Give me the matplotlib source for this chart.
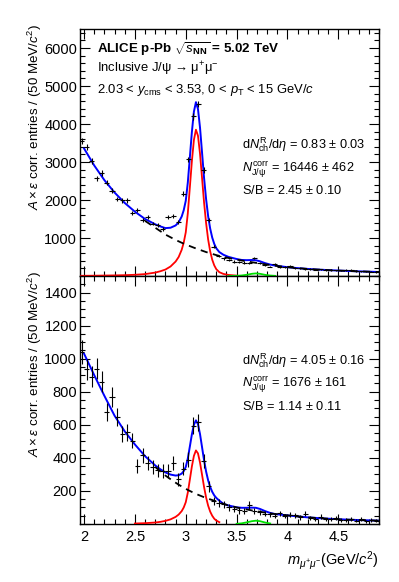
import numpy as np
import matplotlib
matplotlib.use("Agg")
import matplotlib.pyplot as plt
from matplotlib.ticker import MultipleLocator, FuncFormatter

plt.rcParams['font.family'] = ['Liberation Sans', 'DejaVu Sans']
plt.rcParams['mathtext.fontset'] = 'custom'
plt.rcParams['mathtext.rm'] = 'Liberation Sans'
plt.rcParams['mathtext.it'] = 'Liberation Sans:italic'
plt.rcParams['mathtext.bf'] = 'Liberation Sans:bold'

# ---- data: dimuon invariant mass bins (50 MeV/c2 wide) ----
mass = [1.975, 2.025, 2.075, 2.125, 2.175, 2.225, 2.275, 2.325, 2.375, 2.425,
        2.475, 2.525, 2.575, 2.625, 2.675, 2.725, 2.775, 2.825, 2.875, 2.925,
        2.975, 3.025, 3.075, 3.125, 3.175, 3.225, 3.275, 3.325, 3.375, 3.425,
        3.475, 3.525, 3.575, 3.625, 3.675, 3.725, 3.775, 3.825, 3.875, 3.925,
        3.975, 4.025, 4.075, 4.125, 4.175, 4.225, 4.275, 4.325, 4.375, 4.425,
        4.475, 4.525, 4.575, 4.625, 4.675, 4.725, 4.775, 4.825, 4.875]

# low multiplicity class (top panel)
top_counts = [3550, 3400, 3020, 2570, 2710, 2460, 2250, 2030, 1990, 1990,
              1650, 1730, 1480, 1550, 1380, 1340, 1230, 1540, 1570, 1430,
              2170, 3070, 4200, 4530, 2790, 1470, 770, 530, 465, 420,
              380, 370, 355, 340, 480, 330, 300, 250, 310, 240,
              235, 265, 215, 200, 190, 180, 170, 175, 160, 160,
              150, 150, 160, 165, 130, 125, 120, 110, 105]
top_err = [80, 78, 74, 68, 70, 66, 63, 60, 60, 60,
           55, 56, 52, 53, 50, 50, 48, 53, 53, 51,
           62, 74, 85, 88, 71, 52, 40, 34, 31, 30,
           29, 29, 28, 28, 33, 27, 25, 24, 24, 23,
           23, 22, 22, 21, 21, 20, 20, 20, 19, 19,
           19, 19, 18, 18, 18, 18, 18, 17, 17]

# high multiplicity class (bottom panel)
bot_counts = [1040, 935, 890, 940, 860, 675, 770, 645, 545, 555,
              505, 350, 415, 370, 345, 325, 320, 320, 370, 270,
              335, 390, 595, 615, 380, 228, 140, 125, 118, 100,
              90, 82, 80, 115, 78, 70, 62, 58, 50, 65,
              48, 55, 52, 40, 62, 35, 30, 45, 28, 30,
              35, 25, 24, 30, 20, 30, 18, 24, 20]
bot_err = [70, 66, 64, 66, 63, 55, 60, 55, 50, 50,
           48, 42, 45, 43, 41, 40, 40, 40, 43, 38,
           41, 44, 50, 50, 42, 32, 25, 24, 23, 21,
           20, 19, 19, 22, 18, 17, 16, 16, 15, 16,
           14, 15, 14, 13, 15, 12, 11, 13, 11, 11,
           12, 10, 10, 11, 9, 11, 9, 10, 9]

# ---- fit components ----
fit_mass = [1.96, 2.0, 2.1, 2.2, 2.3, 2.4, 2.5, 2.6, 2.7, 2.75,
            2.8, 2.85, 2.9, 2.93, 2.96, 2.98, 3.0, 3.02, 3.04, 3.06,
            3.08, 3.10, 3.12, 3.14, 3.16, 3.18, 3.20, 3.22, 3.24, 3.26,
            3.28, 3.30, 3.33, 3.37, 3.42, 3.5, 3.55, 3.6, 3.65, 3.69,
            3.73, 3.78, 3.83, 3.88, 4.0, 4.1, 4.2, 4.3, 4.4, 4.5,
            4.6, 4.7, 4.8, 4.9]

top_bkg = [3550, 3350, 2900, 2510, 2180, 1900, 1660, 1450, 1270, 1180,
           1090, 1020, 950, 912, 875, 852, 830, 808, 787, 766,
           745, 725, 706, 687, 668, 649, 630, 614, 598, 582,
           566, 550, 530, 504, 474, 432, 408, 385, 363, 346,
           329, 309, 288, 270, 232, 207, 186, 169, 155, 143,
           132, 122, 113, 105]
top_jpsi = [5, 6, 8, 12, 16, 22, 32, 50, 90, 125,
            170, 250, 380, 500, 690, 880, 1150, 1650, 2330, 3020,
            3580, 3850, 3690, 3220, 2580, 1930, 1390, 960, 650, 430,
            280, 180, 100, 55, 28, 10, 0, 0, 0, 0,
            0, 0, 0, 0, 0, 0, 0, 0, 0, 0,
            0, 0, 0, 0]
top_psi2s = [0] * 34 + [1, 5, 14, 32, 58, 68, 58, 30, 12, 4, 0] + [0] * 9

bot_bkg = [1090, 1030, 900, 775, 655, 560, 478, 405, 345, 318,
           293, 271, 250, 238, 227, 220, 213, 206, 200, 194,
           188, 182, 177, 172, 167, 162, 157, 153, 149, 145,
           141, 137, 130, 122, 112, 100, 94, 88, 82, 78,
           74, 69, 64, 60, 52, 46, 40, 36, 32, 29,
           26, 24, 22, 20]
bot_jpsi = [0, 0, 0, 0, 0, 0, 3, 5, 9, 13,
            19, 28, 43, 57, 78, 100, 132, 190, 268, 348,
            412, 445, 427, 372, 298, 223, 160, 111, 75, 50,
            32, 21, 11, 0, 0, 0, 0, 0, 0, 0,
            0, 0, 0, 0, 0, 0, 0, 0, 0, 0,
            0, 0, 0, 0]
bot_psi2s = [0] * 35 + [1, 4, 10, 17, 20, 17, 9, 3, 0] + [0] * 10

# component ranges as drawn in the figure
top_ranges = {"bkg": (2.55, 4.9), "jpsi": (1.96, 3.5), "psi2s": (3.42, 3.95)}
bot_ranges = {"bkg": (2.65, 4.9), "jpsi": (2.5, 3.34), "psi2s": (3.5, 3.84)}

top_text = [r"d$N_{\rm ch}^{\rm R}$/d$\eta$ = 0.83 $\pm$ 0.03",
            r"$N_{\rm J/\psi}^{\rm corr}$ = 16446 $\pm$ 462",
            r"S/B = 2.45 $\pm$ 0.10"]
bot_text = [r"d$N_{\rm ch}^{\rm R}$/d$\eta$ = 4.05 $\pm$ 0.16",
            r"$N_{\rm J/\psi}^{\rm corr}$ = 1676 $\pm$ 161",
            r"S/B = 1.14 $\pm$ 0.11"]

W, H = 399, 582
fig = plt.figure(figsize=(W / 100, H / 100), dpi=100)


def px_axes(left, top, right, bottom):
    return fig.add_axes([left / W, 1 - bottom / H, (right - left) / W, (bottom - top) / H])


ax_top = px_axes(80, 29, 379, 276)
ax_bot = px_axes(80, 276, 379, 524)


def draw_panel(ax, counts, err, bkg, jpsi, psi2s, ranges, ymax, ymajor, yminor):
    m = np.array(fit_mass)
    bkg = np.array(bkg, float)
    jpsi = np.array(jpsi, float)
    psi2s = np.array(psi2s, float)
    total = bkg + jpsi + psi2s

    sel = m >= 2.0
    ax.plot(m[sel], total[sel], color="#0000ff", lw=1.4, zorder=3)
    lo, hi = ranges["jpsi"]
    sel = (m >= lo - 1e-9) & (m <= hi + 1e-9)
    ax.plot(m[sel], jpsi[sel], color="#ff0000", lw=1.3, zorder=4)
    lo, hi = ranges["psi2s"]
    sel = (m >= lo - 1e-9) & (m <= hi + 1e-9)
    ax.plot(m[sel], psi2s[sel], color="#00e000", lw=1.3, zorder=4)
    lo, hi = ranges["bkg"]
    sel = (m >= lo - 1e-9) & (m <= hi + 1e-9)
    ax.plot(m[sel], bkg[sel], color="black", lw=1.3, ls=(0, (4, 3)), zorder=5)

    ax.errorbar(mass, counts, yerr=err, xerr=0.025, fmt="none",
                ecolor="black", elinewidth=0.8, capsize=0, zorder=6)

    ax.set_xlim(1.96, 4.9)
    ax.set_ylim(0, ymax)
    ax.xaxis.set_major_locator(MultipleLocator(0.5))
    ax.xaxis.set_minor_locator(MultipleLocator(0.1))
    ax.yaxis.set_major_locator(MultipleLocator(ymajor))
    ax.yaxis.set_minor_locator(MultipleLocator(yminor))
    ax.yaxis.set_major_formatter(FuncFormatter(lambda v, p: "" if v == 0 else f"{v:g}"))
    ax.tick_params(which="both", direction="in", top=True, right=True,
                   width=0.8, labelsize=10.5, pad=2)
    ax.tick_params(which="major", length=7)
    ax.tick_params(which="minor", length=3.5)
    for s in ax.spines.values():
        s.set_linewidth(1.0)
    ax.set_ylabel(r"$A\times\varepsilon$ corr. entries / (50 MeV/$c^{2}$)",
                  fontsize=9.6, loc="top")
    ax.yaxis.set_label_coords(-0.12, 1.02)


draw_panel(ax_top, top_counts, top_err, top_bkg, top_jpsi, top_psi2s,
           top_ranges, 6500, 1000, 200)
draw_panel(ax_bot, bot_counts, bot_err, bot_bkg, bot_jpsi, bot_psi2s,
           bot_ranges, 1500, 200, 50)
ax_top.tick_params(labelbottom=False)
ax_bot.xaxis.set_major_formatter(FuncFormatter(lambda v, p: f"{v:g}"))
ax_bot.tick_params(axis="x", pad=4)
ax_bot.set_xlabel(r"$m_{\mu^{+}\mu^{-}}$(GeV/$c^{2}$)", fontsize=10.5, loc="right")


def ftext(x, y, s, **kw):
    fig.text(x / W, 1 - y / H, s, va="baseline", ha="left", **kw)


ftext(97, 52.5, r"ALICE p-Pb $\sqrt{\mathbf{\mathit{s}}_{\mathbf{NN}}}$ = 5.02 TeV",
      fontsize=9.6, fontweight="bold")
ftext(97, 72.5, r"Inclusive J/ψ → μ$^{+}$μ$^{-}$", fontsize=9.4)
ftext(97, 92.5, r"2.03 < $y_{\rm cms}$ < 3.53, 0 < $p_{\rm T}$ < 15 GeV/$c$", fontsize=9.4)

for s, yb in zip(top_text, [149, 171, 194]):
    ftext(242, yb, s, fontsize=9.2)
for s, yb in zip(bot_text, [364, 386, 410]):
    ftext(242, yb, s, fontsize=9.2)

fig.savefig("out.png", dpi=100)
